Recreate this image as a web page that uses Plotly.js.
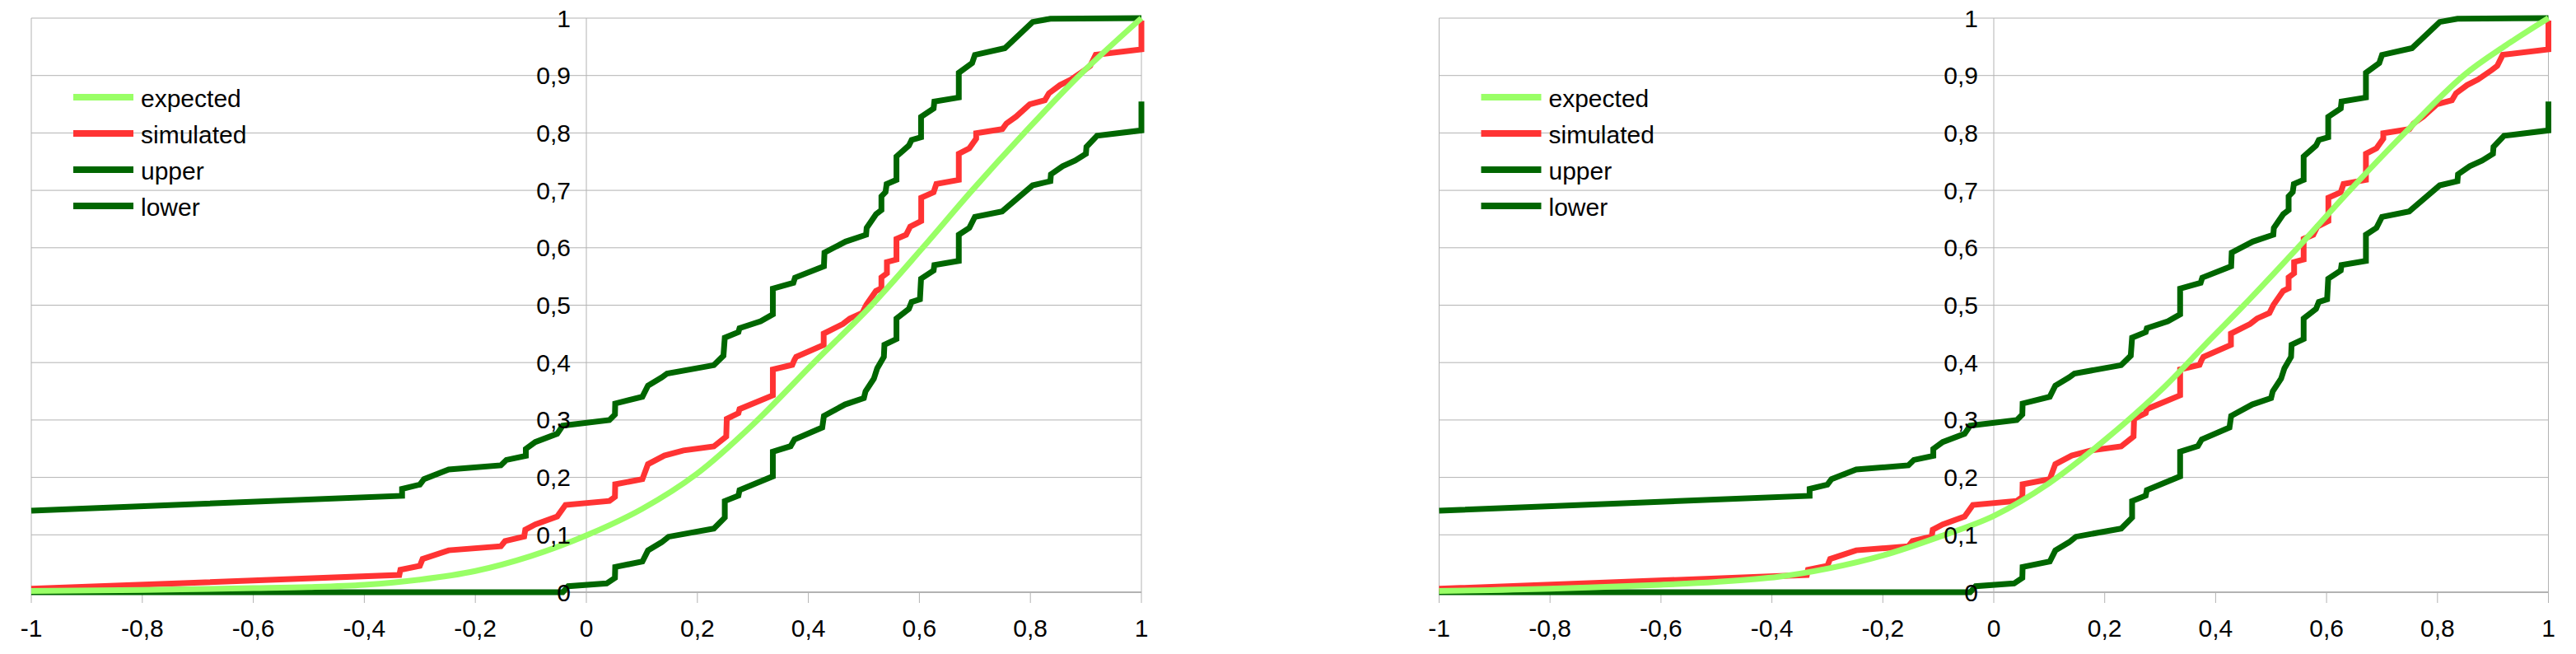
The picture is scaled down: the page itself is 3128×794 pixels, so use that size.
<!DOCTYPE html>
<html>
<head>
<meta charset="utf-8">
<script src="https://cdn.plot.ly/plotly-3.0.1.min.js"></script>
<style>
html,body{margin:0;padding:0;background:#ffffff;}
#chart{width:3128px;height:794px;}
</style>
</head>
<body>
<div id="chart"></div>
<script>
// ---------------- data ----------------
const xTickVals = [-1, -0.8, -0.6, -0.4, -0.2, 0, 0.2, 0.4, 0.6, 0.8, 1];
const xTickText = ['-1', '-0,8', '-0,6', '-0,4', '-0,2', '0', '0,2', '0,4', '0,6', '0,8', '1'];
const yTickVals = [0, 0.1, 0.2, 0.3, 0.4, 0.5, 0.6, 0.7, 0.8, 0.9, 1];
const yTickText = ['0', '0,1', '0,2', '0,3', '0,4', '0,5', '0,6', '0,7', '0,8', '0,9', '1'];
const seriesNames = ['expected', 'simulated', 'upper', 'lower'];

// expected curve, left chart
const expectedLeftX = [-1, -0.8, -0.6, -0.5, -0.4, -0.3, -0.2, -0.1, 0, 0.1, 0.2, 0.3, 0.41, 0.514, 0.606, 0.695, 0.789, 0.888, 1];
const expectedLeftY = [0.002, 0.004, 0.007, 0.009, 0.013, 0.022, 0.037, 0.063, 0.099, 0.145, 0.207, 0.292, 0.4, 0.5, 0.6, 0.7, 0.8, 0.9, 1];

// expected curve, right chart
const expectedRightX = [-1, -0.8, -0.6, -0.5, -0.388, -0.3, -0.2, -0.1, 0, 0.1, 0.2, 0.305, 0.389, 0.451, 0.548, 0.642, 0.741, 0.847, 0.924, 1];
const expectedRightY = [0.002, 0.006, 0.013, 0.018, 0.027, 0.041, 0.064, 0.096, 0.133, 0.19, 0.265, 0.355, 0.439, 0.5, 0.6, 0.7, 0.8, 0.9, 0.953, 1];

// simulated (same in both charts)
const simulatedX = [-1, -0.389, -0.337, -0.335, -0.30, -0.295, -0.27, -0.248, -0.154, -0.1465, -0.112, -0.11, -0.092, -0.0525, -0.0376, 0.0416, 0.0515, 0.052, 0.101, 0.111, 0.1406, 0.175, 0.2297, 0.252, 0.253, 0.274, 0.276, 0.309, 0.336, 0.336, 0.371, 0.375, 0.378, 0.4276, 0.4276, 0.4622, 0.4747, 0.497, 0.5044, 0.5217, 0.5316, 0.5316, 0.5415, 0.5415, 0.5587, 0.5587, 0.5761, 0.5835, 0.6033, 0.6033, 0.6256, 0.6306, 0.671, 0.671, 0.69, 0.7023, 0.7023, 0.7494, 0.7568, 0.774, 0.7988, 0.826, 0.8334, 0.8533, 0.873, 0.8979, 0.9077, 0.9176, 1, 1];
const simulatedY = [0.006, 0.027, 0.030, 0.039, 0.046, 0.058, 0.066, 0.073, 0.080, 0.089, 0.097, 0.109, 0.118, 0.132, 0.152, 0.159, 0.166, 0.188, 0.197, 0.223, 0.238, 0.247, 0.254, 0.271, 0.302, 0.312, 0.319, 0.331, 0.343, 0.388, 0.396, 0.405, 0.41, 0.431, 0.4505, 0.4673, 0.4768, 0.4864, 0.5007, 0.5247, 0.5294, 0.5485, 0.5557, 0.575, 0.5796, 0.6155, 0.6227, 0.637, 0.6466, 0.6872, 0.6968, 0.711, 0.7183, 0.7637, 0.7733, 0.79, 0.7996, 0.8067, 0.8164, 0.8283, 0.8498, 0.857, 0.869, 0.8833, 0.893, 0.9096, 0.9168, 0.936, 0.9455, 0.9957];

// upper band (same in both charts)
const upperX = [-1, -0.332, -0.332, -0.300, -0.2925, -0.270, -0.248, -0.154, -0.144, -0.109, -0.109, -0.092, -0.0525, -0.0426, 0.0416, 0.0515, 0.052, 0.101, 0.111, 0.1356, 0.1455, 0.2297, 0.247, 0.2494, 0.274, 0.276, 0.314, 0.336, 0.336, 0.373, 0.376, 0.428, 0.429, 0.467, 0.504, 0.505, 0.522, 0.5316, 0.5316, 0.539, 0.541, 0.5587, 0.5587, 0.581, 0.586, 0.603, 0.603, 0.6256, 0.627, 0.671, 0.671, 0.695, 0.70, 0.754, 0.774, 0.804, 0.836, 1];
const upperY = [0.142, 0.168, 0.180, 0.1875, 0.197, 0.2066, 0.2138, 0.221, 0.2305, 0.2377, 0.2496, 0.2616, 0.276, 0.290, 0.300, 0.3095, 0.3286, 0.3405, 0.3597, 0.374, 0.381, 0.3955, 0.412, 0.4433, 0.453, 0.46, 0.472, 0.484, 0.529, 0.539, 0.548, 0.5677, 0.5915, 0.6107, 0.6227, 0.6346, 0.6585, 0.6657, 0.6896, 0.697, 0.711, 0.7183, 0.759, 0.778, 0.7877, 0.7924, 0.828, 0.8426, 0.8546, 0.8618, 0.9048, 0.9216, 0.9359, 0.9477, 0.967, 0.9933, 0.999, 1];

// lower band (same in both charts)
const lowerX = [-1, -0.0426, -0.0327, 0.0366, 0.0515, 0.052, 0.101, 0.111, 0.1356, 0.148, 0.2297, 0.2494, 0.2494, 0.274, 0.276, 0.314, 0.336, 0.336, 0.368, 0.375, 0.425, 0.428, 0.466, 0.50, 0.503, 0.518, 0.524, 0.536, 0.537, 0.5587, 0.5587, 0.581, 0.586, 0.601, 0.603, 0.6256, 0.627, 0.671, 0.671, 0.690, 0.70, 0.749, 0.774, 0.804, 0.836, 0.837, 0.858, 0.8805, 0.900, 0.901, 0.920, 1, 1];
const lowerY = [0, 0, 0.0105, 0.0153, 0.0249, 0.044, 0.0535, 0.0727, 0.087, 0.0966, 0.111, 0.130, 0.1588, 0.1683, 0.178, 0.192, 0.2018, 0.2449, 0.2544, 0.266, 0.287, 0.307, 0.327, 0.338, 0.350, 0.372, 0.39, 0.41, 0.431, 0.441, 0.4768, 0.4935, 0.5055, 0.5103, 0.546, 0.5605, 0.570, 0.5772, 0.6227, 0.6346, 0.6538, 0.6633, 0.6848, 0.7088, 0.716, 0.728, 0.742, 0.752, 0.7637, 0.7757, 0.795, 0.8044, 0.8546];

// ---------------- styling / layout ----------------
const W = 3128, H = 794;
const L1 = 38, R1 = 1386, L2 = 1747.5, R2 = 3094.5, TOP = 22, BOT = 719;
const PADX = 0.01, PADY = 0.01;
const GRID = '#b3b3b3';
const FONT = 'Liberation Sans, Arial, sans-serif';
const colors = {expected: '#99ff66', simulated: '#ff3333', upper: '#006600', lower: '#006600'};

function xDomain(l, r) { const u = (r - l) / 2; return [(l - PADX * u) / W, (r + PADX * u) / W]; }
const yu = BOT - TOP;
const yDomain = [1 - (BOT + PADY * yu) / H, 1 - (TOP - PADY * yu) / H];

function makeTraces(xa, ya, leg, expX, expY) {
  const base = (name, x, y, rank, extra) => Object.assign({
    type: 'scatter', mode: 'lines', name: name, x: x, y: y, xaxis: xa, yaxis: ya,
    legend: leg, legendrank: rank, legendgroup: leg + name,
    line: {color: colors[name], width: 7},
    hoverinfo: 'x+y+name'
  }, extra || {});
  return [
    base(seriesNames[2], upperX, upperY, 3),
    base(seriesNames[3], lowerX, lowerY, 4),
    base(seriesNames[1], simulatedX, simulatedY, 2),
    base(seriesNames[0], expX, expY, 1, {line: {color: colors.expected, width: 7, shape: 'spline', smoothing: 1}})
  ];
}

const data = [].concat(
  makeTraces('x', 'y', 'legend', expectedLeftX, expectedLeftY),
  makeTraces('x2', 'y2', 'legend2', expectedRightX, expectedRightY)
);

function shapesFor(xr, yr) {
  const s = [];
  yTickVals.forEach(v => s.push({type: 'line', xref: xr, yref: yr, x0: -1, x1: 1, y0: v, y1: v,
    line: {color: GRID, width: v === 0 ? 2 : 1}, layer: 'below'}));
  [-1, 0, 1].forEach(v => s.push({type: 'line', xref: xr, yref: yr, x0: v, x1: v, y0: 0, y1: 1,
    line: {color: GRID, width: 1}, layer: 'below'}));
  xTickVals.forEach(v => s.push({type: 'line', xref: xr, yref: 'paper', x0: v, x1: v,
    y0: 1 - BOT / H, y1: 1 - (BOT + 13) / H, line: {color: GRID, width: 1}, layer: 'below'}));
  return s;
}

function xAxis(l, r, anchor) {
  return {domain: xDomain(l, r), range: [-1 - PADX, 1 + PADX], anchor: anchor,
    showgrid: false, zeroline: false, showline: false, ticks: '',
    tickmode: 'array', tickvals: xTickVals, ticktext: xTickText,
    ticklabelstandoff: 16, tickfont: {family: FONT, size: 30, color: '#000000'}, fixedrange: true};
}
function yAxis(l, r) {
  return {domain: yDomain, range: [-PADY, 1 + PADY], anchor: 'free', position: ((l + r) / 2) / W,
    showgrid: false, zeroline: false, showline: false, ticks: '',
    tickmode: 'array', tickvals: yTickVals, ticktext: yTickText,
    ticklabelstandoff: 19, tickfont: {family: FONT, size: 30, color: '#000000'}, fixedrange: true};
}
function legendAt(xpx) {
  return {x: xpx / W, y: 1 - 92 / H, xanchor: 'left', yanchor: 'top', bgcolor: 'rgba(0,0,0,0)',
    borderwidth: 0, font: {family: FONT, size: 30, color: '#000000'}, itemwidth: 77,
    tracegroupgap: 2, itemclick: false, itemdoubleclick: false};
}

const layout = {
  width: W, height: H,
  margin: {l: 0, r: 0, t: 0, b: 0},
  paper_bgcolor: '#ffffff', plot_bgcolor: 'rgba(0,0,0,0)',
  font: {family: FONT, size: 30, color: '#000000'},
  showlegend: true,
  xaxis: xAxis(L1, R1, 'y'),
  yaxis: yAxis(L1, R1),
  xaxis2: xAxis(L2, R2, 'y2'),
  yaxis2: yAxis(L2, R2),
  legend: legendAt(84),
  legend2: legendAt(84 + (L2 - L1)),
  shapes: shapesFor('x', 'y').concat(shapesFor('x2', 'y2')),
  hovermode: false
};

const gd = document.getElementById('chart');
function fixLegend() {
  gd.querySelectorAll('.legendlines path').forEach(p => {
    p.setAttribute('d', 'M5,0h73');
    p.style.strokeWidth = '8px';
  });
}
Plotly.newPlot(gd, data, layout, {displayModeBar: false}).then(() => {
  fixLegend();
  gd.on('plotly_afterplot', fixLegend);
});
</script>
</body>
</html>
